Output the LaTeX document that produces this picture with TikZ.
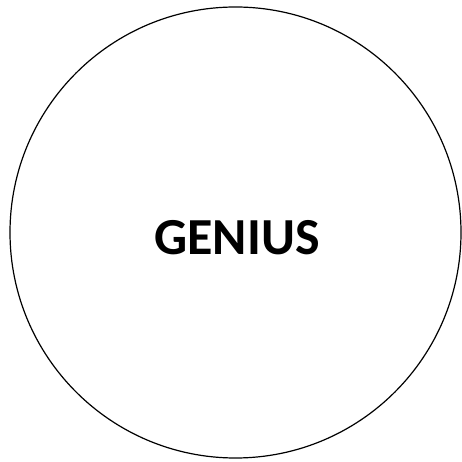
\documentclass[tikz,border=0pt]{standalone}
\usepackage{fontspec}
\setmainfont{Carlito}
\begin{document}
\begin{tikzpicture}[x=1pt, y=1pt, every node/.style={font=\bfseries\fontsize{52}{60}\selectfont}]
						% Rahmen
						\useasboundingbox (0,0) rectangle (461,462);
						% Kreis
						\node[circle, draw, line width=1.2pt, minimum size=451pt, inner sep=0pt] (kreis) at (235.5,229.5) {};
						% Beschriftung
						\node (genius) at (237,224) {GENIUS};
					\end{tikzpicture}
\end{document}
